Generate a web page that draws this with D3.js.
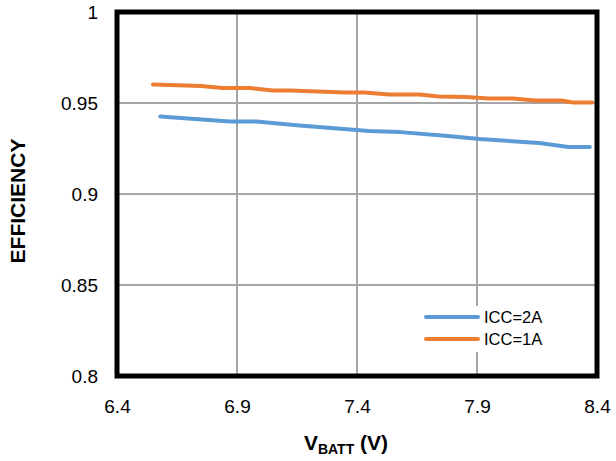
<!DOCTYPE html>
<html>
<head>
<meta charset="utf-8">
<script src="https://cdn.jsdelivr.net/npm/d3@7"></script>
<style>
  body { margin: 0; background: #fff; }
  svg { font-family: "Liberation Sans", Arial, sans-serif; }
</style>
</head>
<body>
<div class="chart"></div>
<script>
var xTicks = [6.4, 6.9, 7.4, 7.9, 8.4];
var yTicks = [0.8, 0.85, 0.9, 0.95, 1];

var icc2Volts = [6.58, 6.87, 6.98, 7.16, 7.45, 7.58, 7.78, 7.91, 8.16, 8.28, 8.37];
var icc2Eff = [0.9426, 0.9398, 0.9398, 0.9376, 0.9346, 0.934, 0.9319, 0.9302, 0.928, 0.9258, 0.9258];

var icc1Volts = [6.55, 6.75, 6.84, 6.955, 7.05, 7.12, 7.35, 7.43, 7.535, 7.66, 7.74, 7.855, 7.95, 8.05, 8.14, 8.25, 8.3, 8.38];
var icc1Eff = [0.9602, 0.9593, 0.9582, 0.9582, 0.9569, 0.9569, 0.9558, 0.9558, 0.9547, 0.9547, 0.9536, 0.9533, 0.9525, 0.9525, 0.9514, 0.9514, 0.9503, 0.9503];

var seriesNames = ["ICC=2A", "ICC=1A"];
var colors = ["#5b9bd5", "#ed7d31"];

var margin = { top: 12, right: 19, bottom: 85, left: 117 },
  width = 616 - margin.left - margin.right,
  height = 461 - margin.top - margin.bottom;

var svg = d3
  .select(".chart")
  .append("svg")
  .attr("width", 616)
  .attr("height", 461);

var g = svg
  .append("g")
  .attr("transform", "translate(" + margin.left + "," + margin.top + ")");

var x = d3.scaleLinear().domain([6.4, 8.4]).range([0, width]);
var y = d3.scaleLinear().domain([0.8, 1]).range([height, 0]);

// grid
g.selectAll(".vgrid")
  .data(xTicks.slice(1, -1))
  .enter()
  .append("line")
  .attr("x1", function (d) { return x(d); })
  .attr("x2", function (d) { return x(d); })
  .attr("y1", 0)
  .attr("y2", height)
  .style("stroke", "#a6a6a6")
  .style("stroke-width", 2);

g.selectAll(".hgrid")
  .data(yTicks.slice(1, -1))
  .enter()
  .append("line")
  .attr("x1", 0)
  .attr("x2", width)
  .attr("y1", function (d) { return y(d); })
  .attr("y2", function (d) { return y(d); })
  .style("stroke", "#a6a6a6")
  .style("stroke-width", 2);

// tick labels via axes
var xAxis = g
  .append("g")
  .attr("transform", "translate(0," + height + ")")
  .call(d3.axisBottom(x).tickValues(xTicks).tickSize(0).tickPadding(24).tickFormat(d3.format(".1f")));
var yAxis = g
  .append("g")
  .call(d3.axisLeft(y).tickValues(yTicks).tickSize(0).tickPadding(19).tickFormat(function (d) { return d3.format("")(+d.toFixed(2)); }));
[xAxis, yAxis].forEach(function (a) {
  a.select(".domain").remove();
  a.selectAll("text")
    .style("font-family", "Liberation Sans, Arial, sans-serif")
    .style("font-size", "19px")
    .style("fill", "#000");
});

// legend box
var legend = g.append("g").attr("transform", "translate(" + (x(8.0) - 83) + "," + (y(0.85) + 21) + ")");
legend
  .append("rect")
  .attr("x", 0)
  .attr("y", 0)
  .attr("width", 140)
  .attr("height", 46)
  .style("fill", "#fff");

var line = d3.line()
  .x(function (d) { return x(d[0]); })
  .y(function (d) { return y(d[1]); });

var series = [
  d3.zip(icc2Volts, icc2Eff),
  d3.zip(icc1Volts, icc1Eff)
];

g.selectAll(".series")
  .data(series)
  .enter()
  .append("path")
  .attr("d", line)
  .style("fill", "none")
  .style("stroke", function (d, i) { return colors[i]; })
  .style("stroke-width", 4)
  .style("stroke-linecap", "round")
  .style("stroke-linejoin", "round");

seriesNames.forEach(function (name, i) {
  var yy = 11 + i * 22;
  legend
    .append("line")
    .attr("x1", 8)
    .attr("x2", 60)
    .attr("y1", yy)
    .attr("y2", yy)
    .style("stroke", colors[i])
    .style("stroke-width", 4)
    .style("stroke-linecap", "round");
  legend
    .append("text")
    .attr("x", 66)
    .attr("y", yy + 6)
    .style("font-size", "16.5px")
    .text(name);
});

// frame
g.append("rect")
  .attr("x", 0)
  .attr("y", 0)
  .attr("width", width)
  .attr("height", height)
  .style("fill", "none")
  .style("stroke", "#000")
  .style("stroke-width", 5);

// axis titles
svg
  .append("text")
  .attr("transform", "translate(25," + 201 + ") rotate(-90)")
  .style("text-anchor", "middle")
  .style("font-weight", "bold")
  .style("font-size", "21px")
  .text("EFFICIENCY");

var xt = svg
  .append("text")
  .attr("x", 346)
  .attr("y", 450)
  .style("text-anchor", "middle")
  .style("font-weight", "bold")
  .style("font-size", "21px");
xt.append("tspan").text("V");
xt.append("tspan").attr("dy", 4).style("font-size", "14px").text("BATT");
xt.append("tspan").attr("dy", -4).text(" (V)");
</script>
</body>
</html>
